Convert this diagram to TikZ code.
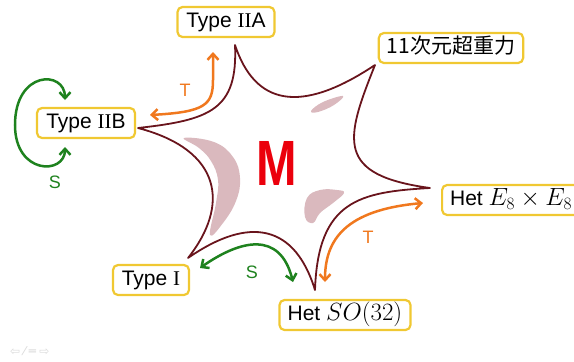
\documentclass[tikz,border=0pt]{standalone}
\usepackage{fontspec}
\setmainfont{Liberation Sans}
\newfontfamily\jpfont{Noto Sans CJK JP}
\newfontfamily\romI{Liberation Serif}
\newfontfamily\symfont{DejaVu Sans}
\usetikzlibrary{arrows.meta}
\definecolor{boxyellow}{RGB}{240,200,50}
\definecolor{stardark}{RGB}{105,20,28}
\definecolor{blobpink}{RGB}{218,185,190}
\definecolor{arrorange}{RGB}{240,120,30}
\definecolor{arrgreen}{RGB}{30,130,30}
\definecolor{mred}{RGB}{235,0,12}
\newcommand{\bigmath}[1]{{\fontsize{24}{26}\selectfont$#1$}}
\begin{document}
\begin{tikzpicture}[x=1pt,y=-1pt,
  sbox/.style={draw=boxyellow, line width=2.2pt, rounded corners=5pt, fill=white,
    minimum height=30pt, inner xsep=8pt, inner ysep=0pt,
    font=\fontsize{21}{24}\selectfont, text height=15pt, text depth=4pt},
  starline/.style={draw=stardark, line width=1.8pt, line join=round},
  blob/.style={fill=blobpink, draw=none},
  tarrow/.style={draw=arrorange, line width=2.5pt, {Straight Barb[length=6pt,width=11pt]}-{Straight Barb[length=6pt,width=11pt]}},
  sarrow/.style={draw=arrgreen, line width=2.5pt, {Straight Barb[length=6pt,width=11pt]}-{Straight Barb[length=6pt,width=11pt]}},
  tlabel/.style={text=arrorange, font=\fontsize{18}{20}\selectfont, inner sep=0pt},
  slabel/.style={text=arrgreen, font=\fontsize{18}{20}\selectfont, inner sep=0pt}
]
\useasboundingbox (0,0) rectangle (574,362);

% blobs
\fill[blob] plot[smooth cycle, tension=0.7] coordinates {(184,138) (214,142) (233,157) (240,178) (236,201) (223,223) (210,235) (216,203) (218,180) (211,161) (199,148)};
\fill[blob] plot[smooth cycle, tension=0.7] coordinates {(311,111) (323,102) (343,96) (334,105) (318,112)};
\fill[blob] plot[smooth cycle, tension=0.7] coordinates {(305,217) (307,198) (320,190) (337,190) (344,193) (333,203) (320,213) (313,223)};

% star
\coordinate (pA) at (235,45);
\coordinate (pB) at (375,65);
\coordinate (pC) at (430,188);
\coordinate (pD) at (315,290);
\coordinate (pE) at (188,258);
\coordinate (pF) at (138,128);
\draw[starline] (pA) .. controls (255,105) and (300,115) .. (pB)
  .. controls (345,140) and (335,175) .. (pC)
  .. controls (360,192) and (318,200) .. (pD)
  .. controls (295,225) and (250,215) .. (pE)
  .. controls (230,205) and (222,150) .. (pF)
  .. controls (210,120) and (238,110) .. cycle;

% M
\node[text=mred, font=\fontsize{64}{64}\selectfont\bfseries, inner sep=0pt] (m) at (277,163) {\scalebox{0.76}[1]{M}};

% boxes
\node[sbox, minimum width=97pt] (iia) at (226,22) {Type {\romI II}A};
\node[sbox, minimum width=98pt] (iib) at (86,123) {Type {\romI II}B};
\node[sbox, minimum width=142pt] (sugra) at (451,48) {\jpfont 11次元超重力};
\node[sbox, anchor=west] (e8) at (441,200) {Het \bigmath{E_8\times E_8}};
\node[sbox, minimum width=131pt] (so32) at (345,315) {Het \bigmath{SO(32)}};
\node[sbox, minimum width=76pt] (ti) at (151,280) {Type {\romI I}};

% arrow end points
\coordinate (iibtop) at (65,100);
\coordinate (iibbot) at (65,147);
\coordinate (iibr) at (150,115);
\coordinate (iiab) at (213,52);
\coordinate (e8l) at (423,203);
\coordinate (so32t) at (325,282);
\coordinate (tir) at (200,268);
\coordinate (so32l) at (293,282);

% arrows
\draw[sarrow] (iibbot) .. controls (65,175) and (15,175) .. (15,125)
  .. controls (15,70) and (65,70) .. (iibtop);
\draw[tarrow] (iibr) .. controls (205,112) and (213,105) .. (213,80) -- (iiab);
\draw[tarrow] (e8l) .. controls (345,210) and (325,240) .. (so32t);
\draw[sarrow] (tir) .. controls (240,240) and (280,230) .. (so32l);

% labels
\node[slabel] (s1) at (55,182) {S};
\node[tlabel] (t1) at (185,90) {T};
\node[tlabel] (t2) at (368,237) {T};
\node[slabel] (s2) at (252,272) {S};

% navigation symbols
\node[text=black!15, font=\symfont\fontsize{12}{12}\selectfont, inner sep=0pt, anchor=west] (nav) at (10,351) {⇦\;⁄\;═\;⇨};
\end{tikzpicture}
\end{document}
